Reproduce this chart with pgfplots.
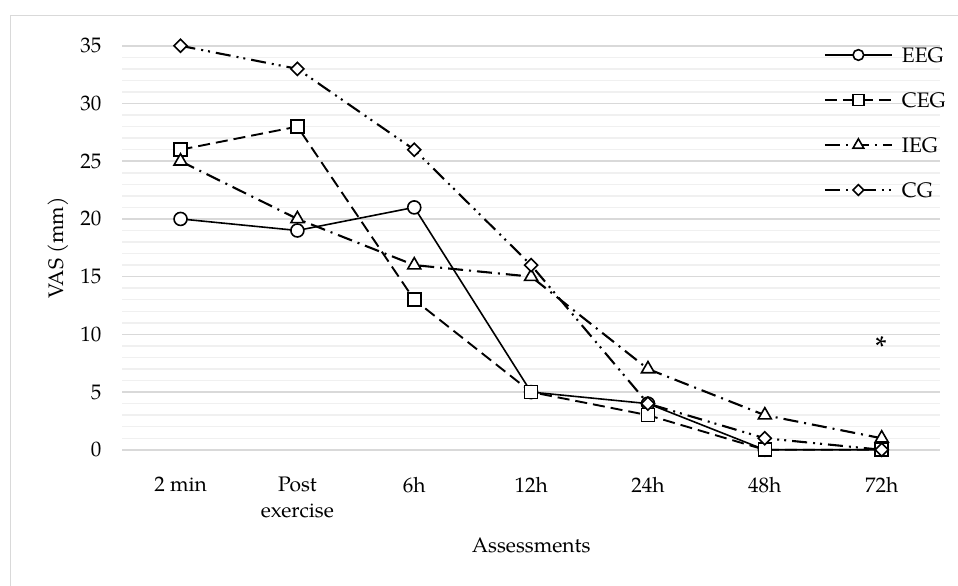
\documentclass[border=0pt]{standalone}
\usepackage{pgfplots}
\pgfplotsset{compat=1.18}
\usepackage{fontspec}
\setmainfont{texgyrepagella-regular.otf}
\begin{document}%
\fontsize{21}{26}\selectfont%
\begin{tikzpicture}[x=1pt,y=1pt]
\useasboundingbox (0,0) rectangle (958,586);
\draw[black!15, line width=1pt] (10,0) -- (10,570) -- (958,570);
\begin{axis}[
  at={(104.5,118)}, anchor=south west,
  scale only axis, width=818pt, height=404pt,
  xmin=-0.5, xmax=6.5, ymin=0, ymax=35,
  clip=false,
  axis line style={draw=none},
  tick style={draw=none},
  major tick length=0pt, minor tick length=0pt,
  /pgf/number format/assume math mode=true,
  ytick={0,5,...,35},
  minor y tick num=4,
  ymajorgrids, yminorgrids,
  major grid style={color=black!15, line width=1.5pt},
  minor grid style={color=black!6, line width=1.5pt},
  xtick={0,...,6},
  xticklabels={2 min,{Post\\exercise},6h,12h,24h,48h,72h},
  xticklabel style={align=center, anchor=north, inner sep=0pt, yshift=-27pt},
  yticklabel style={anchor=east, inner sep=0pt, xshift=-20.5pt},
  xlabel={Assessments},
  xlabel style={at={(axis description cs:0.5,-0.2376)}, anchor=center, inner sep=0pt},
  ylabel={VAS (mm)},
  ylabel style={at={(axis description cs:-0.078,0.5)}, anchor=center, inner sep=0pt},
  legend style={at={(0.8576,0.9957)}, anchor=north west, draw=none, fill=none,
    inner sep=0pt, row sep=30.5pt, column sep=9pt,
    nodes={inner sep=0pt, text height=14.5pt, text depth=0pt}},
  legend cell align=left,
  legend image code/.code={\draw[mark repeat=2,mark phase=2,#1,every mark/.append style={scale=0.82}] plot coordinates {(0pt,0pt) (33.5pt,0pt) (67pt,0pt)};},
]
\addplot[black, line width=1.6pt, mark=*, mark size=6.5pt,
  mark options={solid, fill=white, draw=black, line width=1.6pt}]
  coordinates {(0,20) (1,19) (2,21) (3,5) (4,4) (5,0) (6,0)};
\addlegendentry{EEG}
\addplot[black, line width=1.9pt, dash pattern=on 12pt off 6pt, mark=square*, mark size=6.5pt,
  mark options={solid, fill=white, draw=black, line width=1.6pt}]
  coordinates {(0,26) (1,28) (2,13) (3,5) (4,3) (5,0) (6,0)};
\addlegendentry{CEG}
\addplot[black, line width=2.1pt, dash pattern=on 15pt off 6pt on 2pt off 6pt, mark=triangle*, mark size=7.5pt,
  mark options={solid, fill=white, draw=black, line width=1.6pt}]
  coordinates {(0,25) (1,20) (2,16) (3,15) (4,7) (5,3) (6,1)};
\addlegendentry{IEG}
\addplot[black, line width=2.1pt, dash pattern=on 15pt off 6pt on 2pt off 5pt on 2pt off 6pt, mark=square*, mark size=4.6pt,
  mark options={solid, rotate=45, fill=white, draw=black, line width=1.6pt}]
  coordinates {(0,35) (1,33) (2,26) (3,16) (4,4) (5,1) (6,0)};
\addlegendentry{CG}
\node[anchor=base, inner sep=0pt, font=\fontsize{30}{30}\selectfont] at (axis cs:6,8.0) {*};
\end{axis}
\end{tikzpicture}%
\end{document}
